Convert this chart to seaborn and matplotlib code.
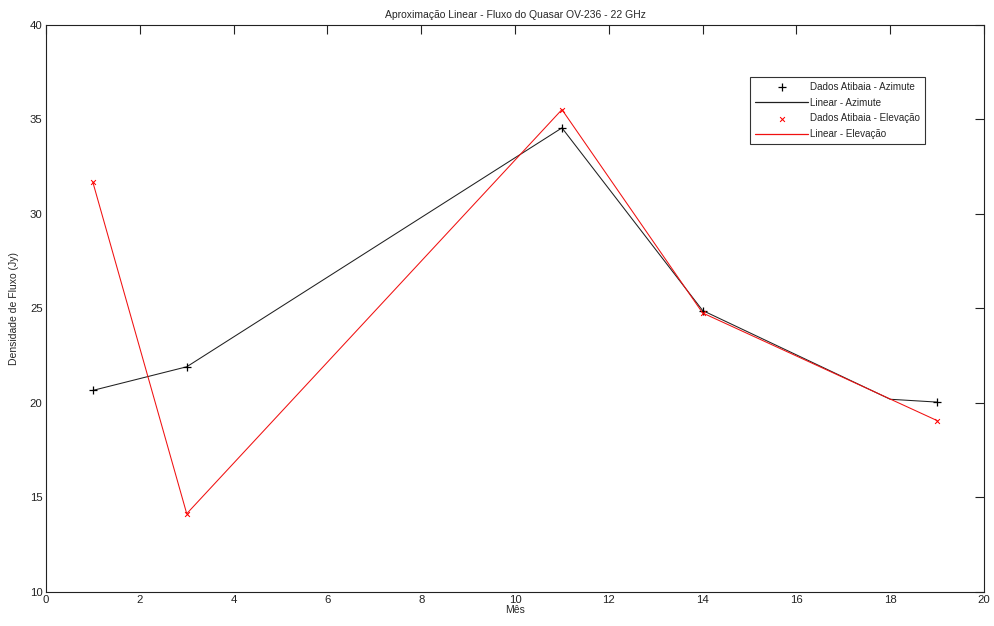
import matplotlib
matplotlib.use("Agg")
import matplotlib.pyplot as plt
import seaborn as sns
import pandas as pd

# Measured flux of quasar OV-236 at 22 GHz (Atibaia)
meses = [1, 3, 11, 14, 19]
fluxo_azimute = [20.65, 21.9, 34.55, 24.88, 20.03]
fluxo_elevacao = [31.66, 14.12, 35.52, 24.75, 19.05]

# Linear fits as drawn (piecewise vertices)
linear_az_x = [1, 3, 11, 14, 18, 19]
linear_az_y = [20.65, 21.9, 34.55, 24.88, 20.18, 20.03]
linear_el_x = [1, 3, 11, 14, 19]
linear_el_y = [31.66, 14.12, 35.52, 24.75, 19.05]

x_ticks = [0, 2, 4, 6, 8, 10, 12, 14, 16, 18, 20]
y_ticks = [10, 15, 20, 25, 30, 35, 40]

COR_AZ = "#202020"
COR_EL = "#f01010"

sns.set_theme(style="white")
plt.rcParams["font.family"] = ["Liberation Sans", "DejaVu Sans"]

fig = plt.figure(figsize=(9.94, 6.26), dpi=100)
ax = fig.add_axes([0.0463, 0.0551, 0.9437, 0.905])

df_az = pd.DataFrame({"x": linear_az_x, "y": linear_az_y})
df_el = pd.DataFrame({"x": linear_el_x, "y": linear_el_y})
pts_az = pd.DataFrame({"x": meses, "y": fluxo_azimute})
pts_el = pd.DataFrame({"x": meses, "y": fluxo_elevacao})

sns.scatterplot(data=pts_az, x="x", y="y", ax=ax, marker="+", color="black",
                s=36, linewidth=0.9, label="Dados Atibaia - Azimute", zorder=4)
sns.lineplot(data=df_az, x="x", y="y", ax=ax, sort=False, color=COR_AZ,
             linewidth=0.75, label="Linear - Azimute", zorder=3)
sns.scatterplot(data=pts_el, x="x", y="y", ax=ax, marker="x", color="#ff0000",
                s=12, linewidth=0.75, label="Dados Atibaia - Elevação", zorder=4)
sns.lineplot(data=df_el, x="x", y="y", ax=ax, sort=False, color=COR_EL,
             linewidth=0.75, label="Linear - Elevação", zorder=3)

ax.set_xlim(0, 20)
ax.set_ylim(10, 40)
ax.set_xticks(x_ticks)
ax.set_yticks(y_ticks)
ax.tick_params(direction="in", length=6.5, width=0.8, top=True, right=True,
               labelsize=8.2, colors="#222222", pad=2.5)
for sp in ax.spines.values():
    sp.set_visible(True)
    sp.set_color("#222222")
    sp.set_linewidth(0.8)

ax.set_title("Aproximação Linear - Fluxo do Quasar OV-236 - 22 GHz",
             fontsize=7.5, pad=5)
ax.set_xlabel("Mês", fontsize=7.5, labelpad=0)
ax.set_ylabel("Densidade de Fluxo (Jy)", fontsize=7.5, labelpad=8)

leg = ax.legend(loc="upper left", bbox_to_anchor=(0.751, 0.908), fontsize=7.1,
                frameon=True, fancybox=False, edgecolor="black",
                borderpad=0.5, labelspacing=0.58, handlelength=5.3,
                handletextpad=0.2, borderaxespad=0)
leg.get_frame().set_linewidth(0.8)
# keep the legend line colours identical to the plotted lines
handles = leg.legend_handles
handles[1].set_color(COR_AZ)
handles[3].set_color(COR_EL)
handles[1].set_linewidth(0.9)
handles[3].set_linewidth(0.9)

fig.savefig("out.png", dpi=100)
